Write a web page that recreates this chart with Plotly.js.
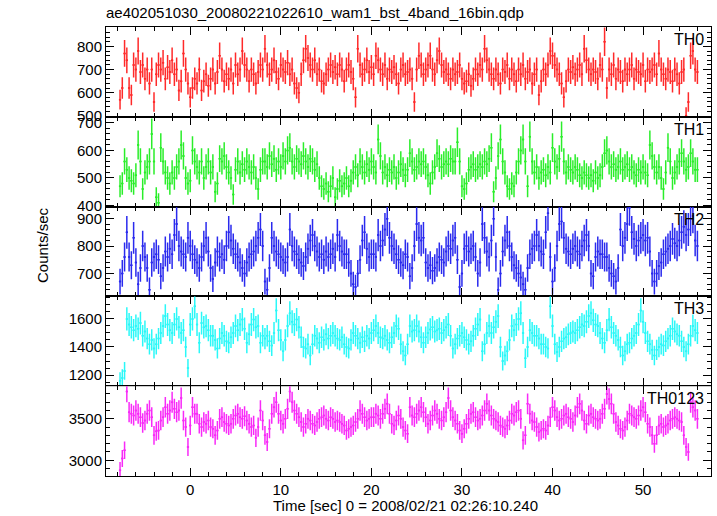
<!DOCTYPE html>
<html>
<head>
<meta charset="utf-8">
<script src="https://cdn.plot.ly/plotly-3.0.1.min.js"></script>
<style>html,body{margin:0;padding:0;background:#fff;}#chart{width:717px;height:516px;}</style>
</head>
<body>
<div id="chart"></div>
<script>
// Time bins: 0.25 s (16 x 1/64 s), first bin centre and width
const tStart = -7.75;
const binWidth = 0.25;

const bandNames = ["TH0", "TH1", "TH2", "TH3", "TH0123"];

const th0 = [
570,620,770,740,620,590,720,700,780,690,720,660,700,640,700,560,
680,720,700,730,660,710,690,740,680,700,610,650,770,700,640,580,
620,660,640,700,610,650,680,630,660,700,640,690,760,700,650,680,
660,700,640,720,680,700,780,720,700,650,700,680,640,690,720,700,
790,720,680,700,740,690,660,720,700,690,730,680,700,640,620,600,
680,740,790,750,720,700,740,680,700,650,640,680,700,720,690,710,
680,720,700,650,700,720,690,660,580,790,720,680,700,740,690,710,
680,760,740,700,680,720,660,700,690,710,680,640,700,720,680,690,
700,660,560,700,760,720,680,700,720,760,700,680,740,780,720,690,
700,680,660,700,680,690,720,660,640,650,680,630,660,700,680,720,
700,790,740,700,680,660,700,680,640,700,690,720,660,700,680,650,
700,680,720,660,690,700,640,680,700,590,650,700,680,720,780,760,
720,700,680,640,580,650,700,690,710,680,700,720,680,790,740,700,
680,700,690,660,720,700,820,620,700,680,720,660,700,690,650,700,
680,700,720,660,700,690,680,720,650,700,690,700,720,680,770,700,
680,660,700,690,650,700,680,640,690,700,500,560,760,780,700,690
];

const th1 = [
470,480,560,530,500,490,480,510,620,560,460,520,540,560,660,560,
430,410,610,560,520,500,480,520,500,540,560,620,580,500,480,490,
600,560,540,520,560,500,540,560,520,540,450,480,570,560,580,540,
520,500,440,530,560,520,550,530,560,540,520,540,500,460,530,560,
560,540,580,550,570,530,560,540,580,560,600,610,560,540,570,560,
550,580,560,540,570,560,530,550,500,470,460,480,450,470,500,430,
460,490,470,480,500,470,490,520,540,510,560,540,520,550,530,560,
540,520,640,580,520,540,510,530,520,540,500,520,550,530,510,530,
590,560,530,540,560,550,560,540,510,480,520,540,590,570,540,550,
560,550,570,560,560,630,560,470,460,480,530,540,550,530,540,550,
540,560,550,570,610,450,500,580,640,560,520,470,460,480,470,520,
560,600,640,560,470,650,560,520,540,500,520,530,510,540,520,610,
560,540,570,650,560,520,540,530,520,540,530,510,500,520,510,500,
510,490,520,500,510,540,590,600,560,540,550,530,540,560,530,540,
550,530,540,520,510,530,520,540,520,510,620,580,540,520,540,500,
460,520,610,560,500,520,540,560,590,560,530,540,590,560,530,530
];

const th2 = [
670,700,760,850,760,730,830,740,660,720,800,760,720,640,740,760,
770,750,690,720,780,760,790,770,840,880,800,780,770,760,830,800,
770,750,740,720,760,800,830,780,720,680,740,780,760,770,750,800,
850,820,790,770,760,740,720,700,740,760,770,780,800,830,860,800,
670,640,720,830,800,780,770,760,750,740,760,860,800,780,770,750,
740,727,760,790,820,840,800,780,760,770,750,780,760,770,790,760,
840,800,780,770,770,740,700,660,650,700,750,820,850,790,760,770,
770,760,840,800,820,860,900,830,800,790,770,750,740,730,770,760,
690,720,800,880,830,820,830,740,720,730,710,720,740,760,750,740,
780,800,790,820,830,750,650,700,790,800,780,790,800,760,700,740,
880,830,780,760,820,900,760,640,700,780,820,850,800,760,730,720,
700,685,660,640,720,770,790,800,840,800,780,770,850,920,760,670,
720,800,880,890,830,790,780,770,790,800,780,770,800,820,840,800,
700,690,760,780,770,770,760,760,720,700,690,670,720,860,800,830,
880,940,850,826,800,820,830,840,820,830,780,700,670,700,727,740,
770,780,790,800,826,810,800,820,850,870,840,860,900,910,820,800
];

const th3 = [
1160,1180,1230,1600,1560,1540,1520,1550,1530,1570,1480,1510,1460,1420,1450,1390,
1420,1460,1500,1550,1620,1560,1520,1500,1560,1600,1540,1500,1520,1400,1250,1560,
1600,1690,1560,1430,1570,1540,1550,1520,1480,1480,1450,1390,1460,1500,1480,1440,
1430,1470,1500,1550,1520,1560,1595,1530,1430,1490,1560,1595,1540,1550,1430,1480,
1460,1480,1440,1410,1500,1660,1520,1450,1370,1450,1550,1640,1580,1560,1595,1540,
1470,1400,1390,1420,1340,1420,1480,1460,1430,1470,1450,1490,1460,1480,1500,1480,
1460,1450,1470,1420,1400,1390,1450,1500,1480,1460,1430,1470,1440,1480,1460,1500,
1520,1550,1500,1470,1460,1480,1450,1430,1470,1500,1550,1530,1420,1370,1340,1420,
1550,1510,1520,1550,1510,1470,1430,1470,1500,1525,1540,1510,1520,1530,1500,1520,
1540,1560,1480,1390,1420,1460,1480,1500,1470,1450,1420,1440,1480,1530,1560,1595,
1370,1420,1500,1550,1500,1540,1580,1620,1400,1300,1340,1370,1450,1550,1520,1560,
1600,1640,1500,1320,1400,1520,1500,1480,1480,1460,1420,1420,1400,1390,1690,1550,
1420,1365,1400,1440,1460,1470,1490,1500,1510,1500,1520,1540,1560,1550,1580,1620,
1640,1590,1560,1550,1500,1460,1430,1520,1595,1540,1500,1480,1450,1400,1340,1370,
1420,1430,1460,1480,1500,1560,1660,1580,1500,1440,1420,1380,1340,1380,1400,1420,
1410,1440,1460,1480,1530,1510,1490,1480,1440,1400,1370,1420,1480,1550,1520,1500
];

const th0123 = [
2880,3020,3120,3830,3580,3560,3540,3600,3560,3520,3450,3480,3560,3600,3520,3300,
3350,3360,3480,3520,3640,3560,3600,3700,3620,3580,3600,3750,3480,3400,3160,3420,
3640,3560,3560,3440,3400,3460,3440,3480,3400,3380,3300,3360,3500,3520,3460,3440,
3420,3440,3500,3540,3560,3520,3500,3530,3480,3440,3400,3420,3270,3400,3600,3480,
3300,3220,3380,3560,3640,3700,3560,3480,3440,3500,3620,3830,3700,3600,3560,3520,
3460,3400,3440,3500,3480,3440,3420,3460,3500,3520,3540,3500,3480,3520,3500,3460,
3480,3460,3440,3420,3360,3380,3400,3420,3460,3500,3600,3560,3520,3480,3500,3520,
3520,3560,3540,3500,3560,3620,3680,3560,3440,3420,3480,3540,3500,3400,3360,3320,
3640,3540,3520,3560,3600,3640,3580,3520,3440,3480,3540,3600,3560,3500,3480,3520,
3580,3750,3600,3520,3480,3440,3360,3320,3380,3440,3500,3560,3580,3520,3480,3500,
3540,3600,3680,3600,3540,3500,3480,3460,3420,3400,3380,3420,3480,3560,3540,3580,
3600,3500,3240,3300,3680,3560,3480,3460,3400,3340,3360,3380,3360,3420,3520,3640,
3600,3520,3480,3500,3540,3560,3520,3500,3460,3540,3640,3680,3600,3480,3440,3540,
3560,3520,3500,3480,3500,3560,3620,3800,3740,3680,3560,3460,3420,3380,3360,3400,
3480,3560,3540,3520,3500,3540,3600,3640,3580,3440,3400,3300,3200,3300,3420,3440,
3400,3420,3440,3480,3500,3520,3500,3480,3460,3300,3160,3100,3700,3640,3600,3500
];

const series = [th0, th1, th2, th3, th0123];
const colors = ["#ff2a2a", "#2aee2a", "#2a2aee", "#2af8f8", "#f82af8"];
const errPercent = [7.5, 8.5, 7.0, 5.2, 3.4];
const yRanges = [[496, 884], [396, 722], [616, 944], [1121, 1760], [2810, 3893]];
const yDticks = [100, 100, 100, 200, 500];
const yMinor = [20, 20, 20, 50, 100];

const times = th0.map((_, i) => tStart + binWidth * i);

const FONT = "Liberation Sans, Arial, Helvetica, sans-serif";
const traces = [];
const layout = {
  width: 717, height: 516,
  margin: {l: 106, r: 6, t: 27, b: 40},
  paper_bgcolor: "#fff", plot_bgcolor: "#fff",
  showlegend: false,
  font: {family: FONT, size: 15, color: "#000"},
  title: {text: "ae402051030_20080221022610_wam1_bst_4band_16bin.qdp",
          xref: "paper", x: 0, xanchor: "left", yref: "container", y: 1 - 13/516, yanchor: "middle",
          font: {family: FONT, size: 15, color: "#000"}},
  annotations: []
};

series.forEach((vals, k) => {
  const n = k + 1;
  const xa = n === 1 ? "x" : "x" + n;
  const ya = n === 1 ? "y" : "y" + n;
  traces.push({
    type: "scatter", mode: "markers", x: times, y: vals, xaxis: xa, yaxis: ya,
    marker: {size: 2, color: colors[k]},
    error_y: {type: "percent", value: errPercent[k], thickness: 1.5, width: 0, color: colors[k]},
    error_x: {type: "constant", value: binWidth / 2, thickness: 1.5, width: 0, color: colors[k]},
    hoverinfo: "skip"
  });
  const top = 1 - 0.2 * k, bot = top - 0.2;
  layout[n === 1 ? "xaxis" : "xaxis" + n] = {
    range: [-9.3, 57.5], anchor: ya, matches: n === 1 ? undefined : "x",
    showgrid: false, zeroline: false, showline: true, linecolor: "#000", linewidth: 1,
    mirror: "allticks", ticks: "inside", ticklen: 8, tickwidth: 1, tickcolor: "#000",
    dtick: 10, tick0: 0, showticklabels: n === 5,
    minor: {dtick: 2, ticklen: 4, ticks: "inside", tickcolor: "#000", tickwidth: 1, showgrid: false},
    tickfont: {family: FONT, size: 15, color: "#000"}
  };
  layout[n === 1 ? "yaxis" : "yaxis" + n] = {
    domain: [Math.max(0, bot), Math.min(1, top)], anchor: xa, range: yRanges[k],
    showgrid: false, zeroline: false, showline: true, linecolor: "#000", linewidth: 1,
    mirror: "allticks", ticks: "inside", ticklen: 8, tickwidth: 1, tickcolor: "#000",
    dtick: yDticks[k], tick0: 0,
    minor: {dtick: yMinor[k], ticklen: 4, ticks: "inside", tickcolor: "#000", tickwidth: 1, showgrid: false},
    tickfont: {family: FONT, size: 15, color: "#000"}
  };
  layout.annotations.push({
    text: bandNames[k], xref: "paper", x: 0.992, xanchor: "right",
    yref: ya + " domain", y: 1, yanchor: "top", yshift: -2,
    showarrow: false, font: {family: FONT, size: 16, color: "#000"}
  });
});

layout.annotations.push({
  text: "Counts/sec", xref: "paper", yref: "paper", x: (42 - 106) / 605, y: (476 - 245) / 449,
  xanchor: "center", yanchor: "middle", textangle: -90, showarrow: false,
  font: {family: FONT, size: 15, color: "#000"}
});
layout.annotations.push({
  text: "Time [sec] 0 = 2008/02/21 02:26:10.240", xref: "paper", yref: "paper",
  x: (405 - 106) / 605, y: (476 - 505) / 449, xanchor: "center", yanchor: "middle",
  showarrow: false, font: {family: FONT, size: 15, color: "#000"}
});

Plotly.newPlot("chart", traces, layout, {staticPlot: true, displayModeBar: false});
</script>
</body>
</html>
